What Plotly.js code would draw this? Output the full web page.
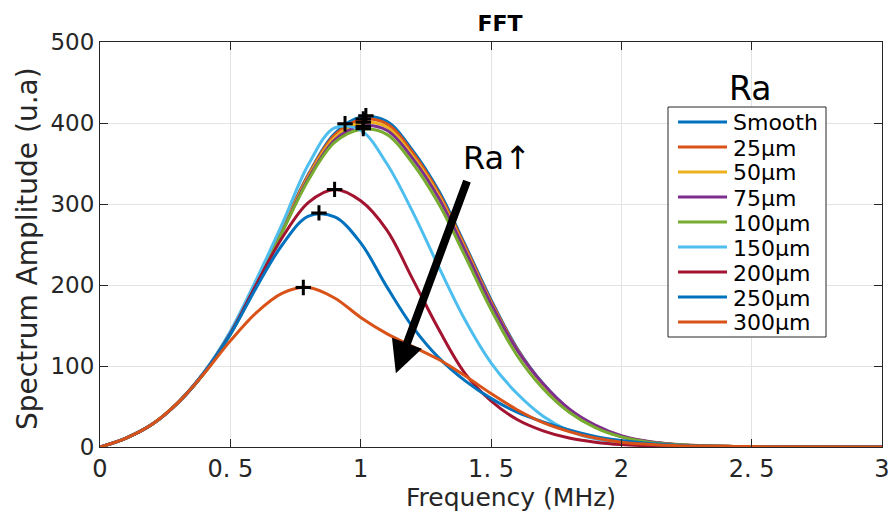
<!DOCTYPE html>
<html>
<head>
<meta charset="utf-8">
<script src="https://cdn.plot.ly/plotly-3.0.1.min.js"></script>
<style>html,body{margin:0;padding:0;background:#fff;}#chart{width:895px;height:513px;}</style>
</head>
<body>
<div id="chart"></div>
<script>
// Frequency grid (MHz)
const freq = [0,0.1,0.2,0.3,0.4,0.5,0.6,0.7,0.8,0.9,1.0,1.1,1.2,1.3,1.4,1.5,1.6,1.7,1.8,1.9,2.0,2.1,2.2,2.3,2.4,2.5,3.0];

const seriesNames = ["Smooth","25µm","50µm","75µm","100µm","150µm","200µm","250µm","300µm"];

const smooth = [0,11,28,55,92,141,204,271,337,387,407,402,366,316,250,182,122,78,46,25,13,6.5,3.2,1.6,0.8,0.4,0];
const ra25   = [0,11,28,55,92,141,203,270,336,385,404,399,363,313,248,180,121,77,46,25,13,6.5,3.2,1.6,0.8,0.4,0];
const ra50   = [0,11,28,55,92,140,202,269,334,382,400,395,359,310,245,178,120,77,46,26,13.5,6.8,3.4,1.7,0.9,0.4,0];
const ra75   = [0,11,28,55,92,140,201,267,332,379,396,391,356,307,243,177,120,78,47,27,14,7,3.5,1.8,0.9,0.5,0];
const ra100  = [0,11,28,55,91,139,200,266,330,376,392,386,350,300,236,170,113,72,43,24,12.5,6.2,3,1.5,0.8,0.4,0];
const ra150  = [0,11,28,55,93,143,207,276,349,394,391,350,290,222,157,104,66,38,20,10,5,2.5,1.2,0.6,0.3,0.2,0];
const ra200  = [0,11,28,55,92,140,201,259,302,318,304,268,207,145,91,57,34,20,11,6,3,1.5,0.8,0.4,0.2,0.1,0];
const ra250  = [0,11,28,55,92,139,197,250,285,284,252,198,148,110,82,60,43,31,21,13,8,4.5,2.5,1.3,0.7,0.4,0];
const ra300  = [0,11,28,55,91,131,166,190,197,184,160,140,124,108,88,66,46,30,19,11,6,3.5,2,1.2,0.8,0.5,0];

// Peak markers
const peakFreq = [1.02,1.01,1.01,1.01,1.01,0.94,0.90,0.84,0.78];
const peakAmp  = [409,405,401,396,393,399,318,289,197];

const allSeries = [smooth, ra25, ra50, ra75, ra100, ra150, ra200, ra250, ra300];
const colors = ["#0072BD","#D95319","#EDB120","#7E2F8E","#77AC30","#4DBEEE","#A2142F","#0072BD","#D95319"];

const xTickVals = [0,0.5,1,1.5,2,2.5,3];
const xTickText = ["0","0. 5","1","1. 5","2","2. 5","3"];
const yTickVals = [0,100,200,300,400,500];

const traces = allSeries.map((vals, i) => ({
  x: freq, y: vals, type: "scatter", mode: "lines",
  name: seriesNames[i], showlegend: false,
  line: {color: colors[i], width: 3, shape: "spline", smoothing: 1},
  hoverinfo: "skip"
}));
traces.push({
  x: peakFreq, y: peakAmp, type: "scatter", mode: "markers", showlegend: false,
  marker: {symbol: "cross-thin", size: 11, color: "#000", line: {color: "#000", width: 3}},
  hoverinfo: "skip"
});

// pixel -> paper helpers (plot area: x 100..882, y 42..447)
const L = 100, R = 882, T = 42, B = 447;
const px = v => (v - L) / (R - L);
const py = v => (B - v) / (B - T);

// Custom legend (box, line samples, labels)
const shapes = [{
  type: "rect", xref: "paper", yref: "paper", layer: "above",
  x0: px(668), x1: px(826), y0: py(337), y1: py(107),
  fillcolor: "#fff", line: {color: "#262626", width: 1}
}];
const annotations = [];
seriesNames.forEach((nm, i) => {
  const yc = 122 + i * 25;
  shapes.push({type: "line", xref: "paper", yref: "paper", layer: "above",
    x0: px(678), x1: px(727), y0: py(yc), y1: py(yc),
    line: {color: colors[i], width: 3.2}});
  annotations.push({x: px(731), y: py(yc + 1), xref: "paper", yref: "paper",
    text: nm, showarrow: false, xanchor: "left", yanchor: "middle",
    font: {size: 22, color: "#000"}});
});
annotations.push(
  {x: px(750), y: py(88), xref: "paper", yref: "paper", text: "Ra", showarrow: false,
   font: {size: 33, color: "#000"}, xanchor: "center", yanchor: "middle"},
  {x: 1.135, y: 91, xref: "x", yref: "y", ax: 1.41, ay: 330, axref: "x", ayref: "y",
   text: "", showarrow: true, arrowhead: 2, arrowsize: 0.8, arrowwidth: 8, arrowcolor: "#000"},
  {x: 1.523, y: 357, xref: "x", yref: "y", text: "Ra↑", showarrow: false,
   font: {size: 32, color: "#000"}, xanchor: "center", yanchor: "middle"},
  {x: px(511), y: py(497), xref: "paper", yref: "paper", text: "Frequency (MHz)", showarrow: false,
   font: {size: 25, color: "#262626"}, xanchor: "center", yanchor: "middle"},
  {x: px(28), y: py(249), xref: "paper", yref: "paper", text: "Spectrum Amplitude (u.a)", showarrow: false,
   textangle: -90, font: {size: 28, color: "#262626"}, xanchor: "center", yanchor: "middle"}
);

const axisCommon = {
  showline: true, linecolor: "#262626", linewidth: 1, mirror: "ticks",
  ticks: "inside", ticklen: 8, tickcolor: "#262626", tickwidth: 1,
  showgrid: true, gridcolor: "#e3e3e3", gridwidth: 1, zeroline: false
};

const layout = {
  width: 895, height: 513,
  margin: {l: 100, r: 13, t: 42, b: 66},
  paper_bgcolor: "#fff", plot_bgcolor: "#fff",
  font: {family: "DejaVu Sans", color: "#262626"},
  title: {text: "<b>FFT</b>", font: {size: 22, color: "#000", family: "DejaVu Sans"}, x: 500 / 895, xanchor: "center", y: 0.955, yanchor: "middle"},
  xaxis: Object.assign({}, axisCommon, {
    range: [0, 3], tickmode: "array", tickvals: xTickVals, ticktext: xTickText,
    tickfont: {size: 24, color: "#262626"}
  }),
  yaxis: Object.assign({}, axisCommon, {
    range: [0, 500], tickmode: "array", tickvals: yTickVals,
    tickfont: {size: 23, color: "#262626"}
  }),
  showlegend: false,
  shapes: shapes,
  annotations: annotations
};

Plotly.newPlot("chart", traces, layout, {staticPlot: true, displayModeBar: false});
</script>
</body>
</html>
